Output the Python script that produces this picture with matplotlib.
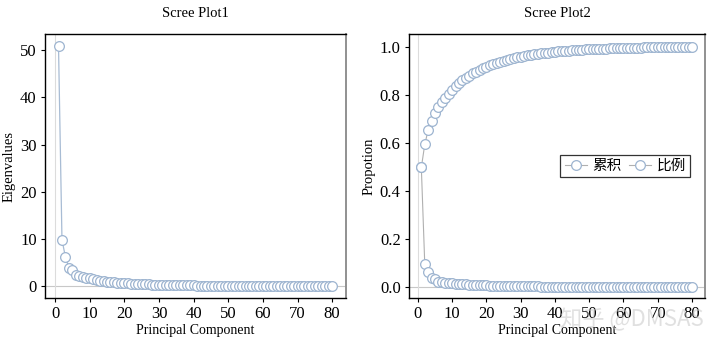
import numpy as np
import matplotlib
matplotlib.use("Agg")
import matplotlib.pyplot as plt

plt.rcParams['font.family'] = ['Liberation Serif', 'Noto Sans CJK SC', 'DejaVu Sans']

# eigenvalues (80 principal components)
eigenvalues = [
    50.8, 9.8, 6.2, 3.9, 3.4, 2.3, 2.1, 1.85, 1.8, 1.7,
    1.45, 1.4, 1.15, 1.05, 0.98, 0.9, 0.82, 0.76, 0.7, 0.64,
    0.58, 0.54, 0.5, 0.46, 0.43, 0.4, 0.37, 0.34, 0.32, 0.3,
    0.28, 0.26, 0.24, 0.22, 0.21, 0.19, 0.18, 0.17, 0.16, 0.15,
    0.14, 0.13, 0.12, 0.11, 0.105, 0.1, 0.095, 0.09, 0.085, 0.08,
    0.075, 0.07, 0.066, 0.062, 0.058, 0.055, 0.052, 0.049, 0.046, 0.043,
    0.04, 0.038, 0.036, 0.034, 0.032, 0.03, 0.028, 0.026, 0.024, 0.022,
    0.02, 0.018, 0.016, 0.014, 0.012, 0.01, 0.008, 0.006, 0.004, 0.002,
]
components = np.arange(1, len(eigenvalues) + 1)
proportion = np.array(eigenvalues) / np.sum(eigenvalues)
cumulative = np.cumsum(proportion)

x_ticks = [0, 10, 20, 30, 40, 50, 60, 70, 80]
legend_labels = ["累积", "比例"]

edge = "#9db4d0"
marker_kw = dict(marker="o", markersize=7.0, markerfacecolor="white",
                 markeredgecolor=edge, markeredgewidth=0.9)


def style_axes(ax):
    for side in ["top", "left", "bottom"]:
        ax.spines[side].set_color("black")
        ax.spines[side].set_linewidth(1.0)
    ax.spines["right"].set_color("#909090")
    ax.spines["right"].set_linewidth(1.4)
    ax.tick_params(direction="out", length=3, width=0.8, labelsize=12,
                   top=False, right=False, pad=3)
    ax.set_xticks(x_ticks)
    ax.axhline(0, color="#c8c8c8", lw=0.8, zorder=0)
    ax.axvline(0, color="#dcdcdc", lw=0.8, zorder=0)
    ax.set_xlabel("Principal Component", fontsize=10, labelpad=1)


fig = plt.figure(figsize=(7.2, 3.51), dpi=100)
ax1 = fig.add_axes([45 / 720, 53 / 351, 301 / 720, 264 / 351])
ax2 = fig.add_axes([409 / 720, 53 / 351, 296 / 720, 264 / 351])

ax1.plot(components, eigenvalues, color="#a8bcd4", lw=0.9, **marker_kw)
ax1.set_xlim(-2.9, 84)
ax1.set_ylim(-2.5, 53.4)
ax1.set_yticks([0, 10, 20, 30, 40, 50])
ax1.set_ylabel("Eigenvalues", fontsize=10.5, labelpad=3)
ax1.set_title("Scree Plot1", fontsize=10.5, pad=12)
style_axes(ax1)

ax2.plot(components, cumulative, color="#b0b0b0", lw=0.8,
         label=legend_labels[0], **marker_kw)
ax2.plot(components, proportion, color="#b0b0b0", lw=0.8,
         label=legend_labels[1], **marker_kw)
ax2.set_xlim(-2.6, 83.8)
ax2.set_ylim(-0.046, 1.054)
ax2.set_yticks([0.0, 0.2, 0.4, 0.6, 0.8, 1.0])
ax2.set_yticklabels(["0.0", "0.2", "0.4", "0.6", "0.8", "1.0"])
ax2.set_ylabel("Propotion", fontsize=10.5, labelpad=3)
ax2.set_title("Scree Plot2", fontsize=10.5, pad=12)
style_axes(ax2)

leg = ax2.legend(loc="center right", ncol=2, frameon=True,
                 fancybox=False, edgecolor="black", handlelength=1.5,
                 handletextpad=0.4, columnspacing=0.5, borderpad=0.3,
                 bbox_to_anchor=(0.975, 0.5),
                 prop={"family": ["Noto Sans CJK SC", "DejaVu Sans"], "size": 10.5})
leg.get_frame().set_linewidth(0.9)

fig.text(0.878, 0.09, "知乎 @DMSAS", fontsize=16, color="#c8c8c8", alpha=0.55,
         ha="center", va="center", family=["Noto Sans CJK SC", "DejaVu Sans"])

fig.savefig("out.png", dpi=100)
